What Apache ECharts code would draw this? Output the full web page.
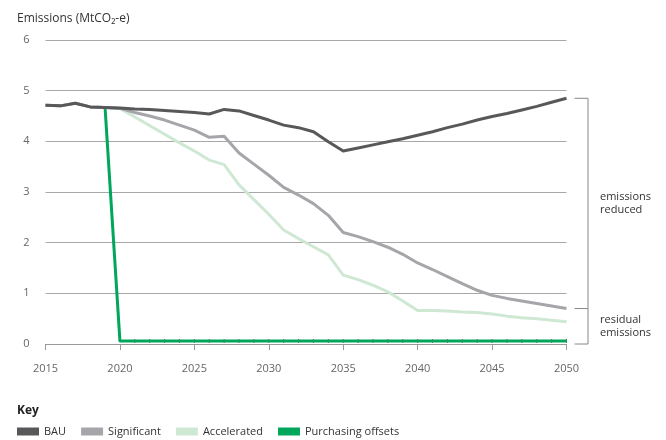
<!DOCTYPE html>
<html lang="en">
<head>
    <meta charset="UTF-8">
    <title>Emissions scenarios</title>
    <script src="https://cdn.jsdelivr.net/npm/echarts@6/dist/echarts.min.js"></script>
    <style>
        html, body { margin: 0; padding: 0; background: #fff; }
        #main { width: 666px; height: 440px; }
    </style>
</head>
<body>
<div id="main"></div>
<script type="text/javascript">
    // years 2015 - 2050
    var years = [];
    for (var y = 2015; y <= 2050; y++) years.push(y);

    var bau = [4.71, 4.70, 4.75, 4.68, 4.67, 4.66, 4.64, 4.63, 4.61, 4.59, 4.57, 4.54, 4.63, 4.60, 4.51, 4.42, 4.32, 4.27, 4.19, 3.99, 3.81,
        3.87, 3.93, 3.99, 4.05, 4.12, 4.19, 4.27, 4.34, 4.42, 4.49, 4.55, 4.62, 4.69, 4.77, 4.85];
    var significant = [4.71, 4.70, 4.75, 4.68, 4.67, 4.65, 4.57, 4.50, 4.42, 4.32, 4.22, 4.08, 4.10, 3.77, 3.55, 3.33, 3.09, 2.94, 2.77, 2.54, 2.20,
        2.12, 2.02, 1.91, 1.77, 1.60, 1.47, 1.33, 1.19, 1.06, 0.96, 0.90, 0.85, 0.80, 0.75, 0.70];
    var accelerated = [4.71, 4.70, 4.75, 4.68, 4.67, 4.65, 4.48, 4.31, 4.14, 3.97, 3.81, 3.63, 3.54, 3.14, 2.85, 2.56, 2.25, 2.08, 1.92, 1.76, 1.36,
        1.27, 1.16, 1.03, 0.85, 0.66, 0.66, 0.65, 0.63, 0.62, 0.59, 0.55, 0.52, 0.50, 0.47, 0.44];
    var offsets = [null, null, null, null, 4.67, 0.06, 0.06, 0.06, 0.06, 0.06, 0.06, 0.06, 0.06, 0.06, 0.06, 0.06, 0.06, 0.06, 0.06, 0.06, 0.06,
        0.06, 0.06, 0.06, 0.06, 0.06, 0.06, 0.06, 0.06, 0.06, 0.06, 0.06, 0.06, 0.06, 0.06, 0.06];

    var yTicks = [0, 1, 2, 3, 4, 5, 6];
    var xLabels = [2015, 2020, 2025, 2030, 2035, 2040, 2045, 2050];

    var FONT = '"Open Sans", "Noto Sans", sans-serif';

    function pairs(values) {
        var out = [];
        for (var i = 0; i < years.length; i++) out.push([years[i], values[i]]);
        return out;
    }

    function lineSeries(name, values, color, z) {
        return {
            name: name,
            type: 'line',
            data: pairs(values),
            showSymbol: false,
            symbol: 'none',
            connectNulls: false,
            z: z,
            lineStyle: { color: color, width: 3, join: 'round' },
            itemStyle: { color: color },
            emphasis: { disabled: true }
        };
    }

    // offsets line carries small year marks along its flat part
    var offsetSeries = lineSeries('Purchasing offsets', offsets, '#00a65a', 3);
    offsetSeries.data = pairs(offsets).map(function (p, i) {
        if (p[1] === null || years[i] < 2021) return { value: p, symbol: 'none' };
        return { value: p, symbol: 'rect', symbolSize: [1, 4], itemStyle: { color: '#3f8a62' } };
    });
    offsetSeries.showSymbol = true;
    offsetSeries.symbol = 'rect';
    offsetSeries.showAllSymbol = true;

    var myChart = echarts.init(document.getElementById('main'), null, { renderer: 'canvas' });

    var option = {
        animation: false,
        textStyle: { fontFamily: FONT },
        title: [
            { text: 'Emissions (MtCO₂-e)', left: 12, top: 8,
              textStyle: { fontFamily: FONT, fontSize: 12, fontWeight: 'normal', color: '#333' } },
            { text: 'Key', left: 12, top: 400,
              textStyle: { fontFamily: FONT, fontSize: 12, fontWeight: 'bold', color: '#222' } }
        ],
        legend: {
            data: ['BAU', 'Significant', 'Accelerated', 'Purchasing offsets'],
            left: 12, top: 421,
            icon: 'rect',
            itemWidth: 22, itemHeight: 8, itemGap: 15,
            selectedMode: false,
            textStyle: { fontFamily: FONT, fontSize: 11, color: '#333' }
        },
        grid: { left: 45.5, right: 99.5, top: 40, bottom: 96 },
        xAxis: {
            type: 'value',
            min: 2015, max: 2050, interval: 5,
            axisLine: { show: true, lineStyle: { color: '#999', width: 1 } },
            axisTick: { show: true, length: 6, lineStyle: { color: '#999' } },
            splitLine: { show: false },
            axisLabel: {
                margin: 19, fontSize: 11, color: '#666', fontFamily: FONT,
                formatter: function (v) { return xLabels.indexOf(v) >= 0 ? String(v) : ''; }
            }
        },
        yAxis: {
            type: 'value',
            min: yTicks[0], max: yTicks[yTicks.length - 1], interval: 1,
            axisLine: { show: false },
            axisTick: { show: false },
            splitLine: { lineStyle: { color: '#a8a8a8', width: 1 } },
            axisLabel: { margin: 16, fontSize: 11, color: '#666', fontFamily: FONT }
        },
        series: [
            offsetSeries,
            lineSeries('Accelerated', accelerated, '#cfe8d4', 4),
            lineSeries('Significant', significant, '#a6a5aa', 5),
            lineSeries('BAU', bau, '#58585a', 6)
        ]
    };

    myChart.setOption(option);

    // bracket annotations on the right, positioned from data values
    var last = years.length - 1;
    var yTop = myChart.convertToPixel({ gridIndex: 0 }, [2050, bau[last]])[1];
    var yMid = myChart.convertToPixel({ gridIndex: 0 }, [2050, significant[last]])[1];
    var yBot = myChart.convertToPixel({ gridIndex: 0 }, [2050, 0])[1];
    var xEnd = myChart.convertToPixel({ gridIndex: 0 }, [2050, 0])[0];
    var bx0 = xEnd + 8, bx1 = xEnd + 21.5;
    var lineStyle = { stroke: '#888', lineWidth: 1 };

    myChart.setOption({
        graphic: [
            { type: 'line', shape: { x1: bx0, y1: yTop, x2: bx1, y2: yTop }, style: lineStyle, silent: true },
            { type: 'line', shape: { x1: bx0, y1: yMid, x2: bx1, y2: yMid }, style: lineStyle, silent: true },
            { type: 'line', shape: { x1: bx0, y1: yBot, x2: bx1, y2: yBot }, style: lineStyle, silent: true },
            { type: 'line', shape: { x1: bx1, y1: yTop, x2: bx1, y2: yBot }, style: lineStyle, silent: true },
            { type: 'text', x: bx1 + 12, y: (yTop + yMid) / 2, silent: true,
              style: { text: 'emissions\nreduced', fill: '#333', font: '11px ' + FONT, lineHeight: 13, verticalAlign: 'middle' } },
            { type: 'text', x: bx1 + 12, y: (yMid + yBot) / 2, silent: true,
              style: { text: 'residual\nemissions', fill: '#333', font: '11px ' + FONT, lineHeight: 13, verticalAlign: 'middle' } }
        ]
    });
</script>
</body>
</html>
